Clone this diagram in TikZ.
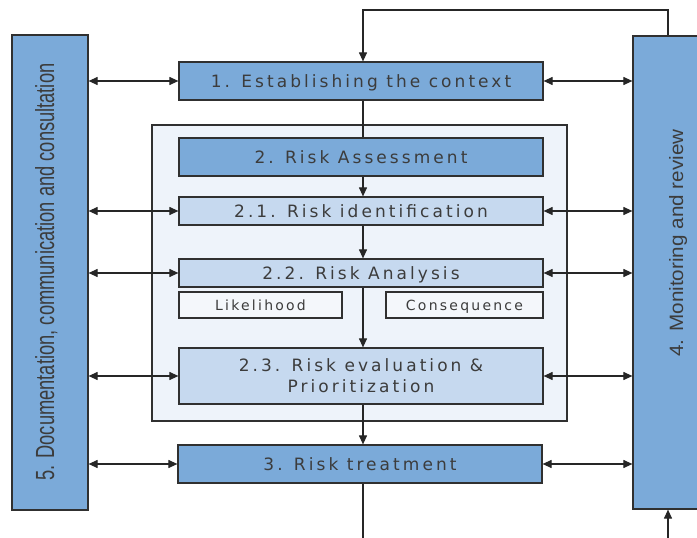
\documentclass[tikz,border=0pt]{standalone}
\usepackage{fontspec}
\usepackage{graphicx}
\setmainfont{Liberation Sans}
\newfontfamily\boxfont[LetterSpace=18]{DejaVu Sans}
\newfontfamily\subfont[LetterSpace=16]{DejaVu Sans}
\usetikzlibrary{arrows.meta,calc}
\definecolor{bluedark}{HTML}{7BAAD9}
\definecolor{bluelight}{HTML}{C6D9EF}
\definecolor{bgpale}{HTML}{EEF3FA}
\definecolor{boxpale}{HTML}{F4F7FB}
\definecolor{txt}{HTML}{3C3C3C}
\definecolor{edge}{HTML}{303030}
\begin{document}
\begin{tikzpicture}[x=1pt,y=-1pt,
  box/.style={draw=edge, line width=1.2pt, text=txt, inner sep=0pt, align=center,
    font=\boxfont\fontsize{17}{21}\selectfont},
  capc/.style={text height=12.4pt, text depth=0pt},
  darkbox/.style={box, capc, fill=bluedark, minimum width=364pt, minimum height=38pt},
  lightbox/.style={box, fill=bluelight, minimum width=364pt},
  subbox/.style={box, fill=boxpale, minimum height=26pt, text height=10pt, text depth=0pt,
    font=\subfont\fontsize{14}{16}\selectfont},
  sidebar/.style={draw=edge, line width=1.2pt, fill=bluedark, inner sep=0pt},
  conn/.style={draw=black!85, line width=1.1pt},
  arr/.style={conn, -{Triangle[length=9pt,width=8pt]}},
  darr/.style={conn, {Triangle[length=9pt,width=8pt]}-{Triangle[length=9pt,width=8pt]}}
]
\clip (0,0) rectangle (697,538);
\fill[white] (0,0) rectangle (697,538);

% side bars
\node[sidebar, minimum width=76pt, minimum height=475pt] (docbar) at (50,272.5) {};
\node[sidebar, minimum width=78pt, minimum height=473pt] (monbar) at (672,272.5) {};
\node[rotate=90, anchor=base, text=txt, inner sep=0pt] (doctext) at (54,272)
  {\resizebox{417pt}{19pt}{\fontsize{24}{24}\selectfont 5. Documentation, communication and consultation}};
\node[rotate=90, anchor=base, text=txt, inner sep=0pt] (montext) at (683,243)
  {\resizebox{227pt}{14pt}{\fontsize{20}{20}\selectfont 4. Monitoring and review}};

% outer assessment frame
\node[draw=edge, line width=1.2pt, fill=bgpale, minimum width=415pt, minimum height=296pt, inner sep=0pt] (outer) at (359.5,273) {};

% boxes
\node[darkbox] (b1) at (361,81) {1. Establishing the context};
\node[darkbox] (b2) at (361,157) {2. Risk Assessment};
\node[lightbox, capc, minimum height=28pt] (b21) at (361,211) {2.1. Risk identification};
\node[lightbox, capc, minimum height=28pt] (b22) at (361,273) {2.2. Risk Analysis};
\node[subbox, minimum width=163pt] (lik) at (260.5,305) {Likelihood};
\node[subbox, minimum width=157pt] (con) at (464.5,305) {Consequence};
\node[lightbox, minimum height=56pt] (b23) at (361,376) {2.3. Risk evaluation \&\\Prioritization};
\node[darkbox] (b3) at (360,464) {3. Risk treatment};

% coordinates for the vertical spine and the loop
\coordinate (cx) at (363,0);
\coordinate (tl) at (363,10);
\coordinate (tr) at (668,10);
\coordinate (bl) at (363,545);
\coordinate (br) at (668,545);

% vertical flow
\draw[arr] (monbar.north -| tr) -- (tr) -- (tl) -- (b1.north -| cx);
\draw[conn] (b1.south -| cx) -- (b2.north -| cx);
\draw[arr] (b2.south -| cx) -- (b21.north -| cx);
\draw[arr] (b21.south -| cx) -- (b22.north -| cx);
\draw[arr] (b22.south -| cx) -- (b23.north -| cx);
\draw[arr] (b23.south -| cx) -- (b3.north -| cx);
\draw[conn] (b3.south -| cx) -- (bl);
\draw[arr] (br) -- (monbar.south -| br);

% horizontal double arrows
\foreach \b in {b1,b21,b22,b23,b3}{
  \draw[darr] (docbar.east |- \b.west) -- (\b.west);
  \draw[darr] (\b.east) -- (monbar.west |- \b.east);
}
\end{tikzpicture}
\end{document}
